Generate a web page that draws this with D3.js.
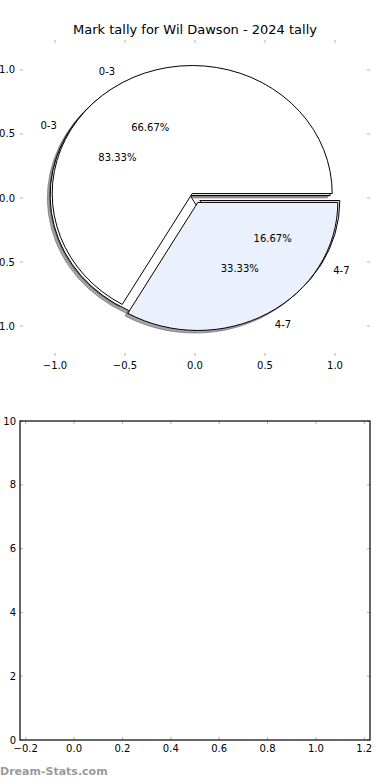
<!DOCTYPE html>
<html>
<head>
<meta charset="utf-8">
<script src="https://cdn.jsdelivr.net/npm/d3@7"></script>
<style>
  body { margin: 0; background: #fff; }
  svg text { font-family: "DejaVu Sans", sans-serif; fill: #000; }
  .tick-mark { stroke: #b0b0b0; stroke-width: 1; }
</style>
</head>
<body>
<div id="chart"></div>
<script>
// --- data ---
const title = "Mark tally for Wil Dawson - 2024 tally";
const sliceLabels = ["0-3", "4-7"];
// two pies drawn on the same axes, back one first
const backPieValues = [5, 1];   // 83.33% / 16.67%
const frontPieValues = [4, 2];  // 66.67% / 33.33%
const sliceColors = ["#ffffff", "#eaf0fc"];
const pieTicks = [-1.0, -0.5, 0.0, 0.5, 1.0];
const emptyXTicks = [-0.2, 0.0, 0.2, 0.4, 0.6, 0.8, 1.0, 1.2];
const emptyYTicks = [0, 2, 4, 6, 8, 10];
const watermark = "Dream-Stats.com";

const W = 390, H = 780;
const svg = d3.select("#chart").append("svg")
    .attr("width", W).attr("height", H);

const fmtTick = d => d3.format(".1f")(d).replace("-", "\u2212");

// 1. top axes (pie), frame hidden, only ticks
const pieBox = { left: 20, right: 370, top: 40, bottom: 356 };
const x = d3.scaleLinear().domain([-1.25, 1.25]).range([pieBox.left, pieBox.right]);
const y = d3.scaleLinear().domain([-1.234, 1.234]).range([pieBox.bottom, pieBox.top]);

svg.append("text")
    .attr("x", (pieBox.left + pieBox.right) / 2)
    .attr("y", 34)
    .attr("text-anchor", "middle")
    .style("font-size", "13px")
    .text(title);

function drawTicks(g, xs, ys, box, tickLen) {
    xs.forEach(v => {
        const px = box.x(v);
        g.append("line").attr("class", "tick-mark")
            .attr("x1", px).attr("x2", px).attr("y1", box.bottom).attr("y2", box.bottom - tickLen);
        g.append("line").attr("class", "tick-mark")
            .attr("x1", px).attr("x2", px).attr("y1", box.top).attr("y2", box.top + tickLen);
    });
    ys.forEach(v => {
        const py = box.y(v);
        g.append("line").attr("class", "tick-mark")
            .attr("x1", box.left).attr("x2", box.left + tickLen).attr("y1", py).attr("y2", py);
        g.append("line").attr("class", "tick-mark")
            .attr("x1", box.right).attr("x2", box.right - tickLen).attr("y1", py).attr("y2", py);
    });
}

const pieAxesG = svg.append("g");
drawTicks(pieAxesG, pieTicks, pieTicks, { x, y, ...pieBox }, 3);

pieAxesG.selectAll(".xl").data(pieTicks).join("text")
    .attr("x", d => x(d)).attr("y", pieBox.bottom + 13)
    .attr("text-anchor", "middle").style("font-size", "10px")
    .text(fmtTick);
pieAxesG.selectAll(".yl").data(pieTicks).join("text")
    .attr("x", pieBox.left - 5).attr("y", d => y(d)).attr("dy", "0.35em")
    .attr("text-anchor", "end").style("font-size", "10px")
    .text(fmtTick);

// 2. pies (matplotlib style: start at 3 o'clock, counter-clockwise)
const explode = 0.04;
const shadowOff = -0.02;
const sx = x(1) - x(0), sy = y(0) - y(1);

const pieGen = d3.pie().sort(null)
    .startAngle(Math.PI / 2).endAngle(Math.PI / 2 - 2 * Math.PI);
const arcGen = d3.arc().innerRadius(0).outerRadius(1);

function layout(values) {
    const total = d3.sum(values);
    return pieGen(values).map((d, i) => {
        const a = (d.startAngle + d.endAngle) / 2;
        // data-space direction of the wedge middle
        const ux = Math.sin(a), uy = Math.cos(a);
        return { ...d, i, ux, uy, cx: explode * ux, cy: explode * uy, pct: d.value / total * 100 };
    });
}

const backPie = layout(backPieValues);
const frontPie = layout(frontPieValues);
const allPies = [backPie, frontPie];

const shadowG = svg.append("g");
const wedgeG = svg.append("g");
const textG = svg.append("g");

allPies.forEach(pie => {
    shadowG.selectAll(null).data(pie).join("path")
        .attr("d", arcGen)
        .attr("transform", d => `translate(${x(d.cx + shadowOff)},${y(d.cy + shadowOff)}) scale(${sx},${sy})`)
        .attr("fill", "#4d4d4d").attr("fill-opacity", 0.5)
        .attr("stroke", "#4d4d4d").attr("stroke-opacity", 0.5)
        .attr("stroke-width", 1).attr("vector-effect", "non-scaling-stroke");
});

allPies.forEach(pie => {
    wedgeG.selectAll(null).data(pie).join("path")
        .attr("d", arcGen)
        .attr("transform", d => `translate(${x(d.cx)},${y(d.cy)}) scale(${sx},${sy})`)
        .attr("fill", d => sliceColors[d.i])
        .attr("stroke", "#000").attr("stroke-width", 1)
        .attr("vector-effect", "non-scaling-stroke");

    // slice labels at 1.1 r, percentages at 0.6 r
    textG.selectAll(null).data(pie).join("text")
        .attr("x", d => x(d.cx + 1.1 * d.ux))
        .attr("y", d => y(d.cy + 1.1 * d.uy)).attr("dy", "0.35em")
        .attr("text-anchor", d => d.ux < 0 ? "end" : "start")
        .style("font-size", "10px")
        .text(d => sliceLabels[d.i]);
    textG.selectAll(null).data(pie).join("text")
        .attr("x", d => x(d.cx + 0.6 * d.ux))
        .attr("y", d => y(d.cy + 0.6 * d.uy)).attr("dy", "0.35em")
        .attr("text-anchor", "middle")
        .style("font-size", "10px")
        .text(d => d.pct.toFixed(2) + "%");
});

// 3. bottom axes, empty
const emptyBox = { left: 20, right: 370, top: 421, bottom: 740 };
const bx = d3.scaleLinear().domain([-0.2236, 1.2236]).range([emptyBox.left, emptyBox.right]);
const by = d3.scaleLinear().domain([0, 10]).range([emptyBox.bottom, emptyBox.top]);

const emptyG = svg.append("g");
drawTicks(emptyG, emptyXTicks, emptyYTicks, { x: bx, y: by, ...emptyBox }, 3);
emptyG.append("rect")
    .attr("x", emptyBox.left).attr("y", emptyBox.top)
    .attr("width", emptyBox.right - emptyBox.left).attr("height", emptyBox.bottom - emptyBox.top)
    .attr("fill", "none").attr("stroke", "#000").attr("stroke-width", 1.2);

emptyG.selectAll(".bxl").data(emptyXTicks).join("text")
    .attr("x", d => bx(d)).attr("y", emptyBox.bottom + 12)
    .attr("text-anchor", "middle").style("font-size", "10px")
    .text(fmtTick);
emptyG.selectAll(".byl").data(emptyYTicks).join("text")
    .attr("x", emptyBox.left - 4).attr("y", d => by(d)).attr("dy", "0.35em")
    .attr("text-anchor", "end").style("font-size", "10px")
    .text(d => d);

svg.append("text")
    .attr("x", 0).attr("y", 775)
    .style("font-size", "11px").style("font-weight", "bold")
    .style("fill", "#9a9a9a")
    .text(watermark);
</script>
</body>
</html>
